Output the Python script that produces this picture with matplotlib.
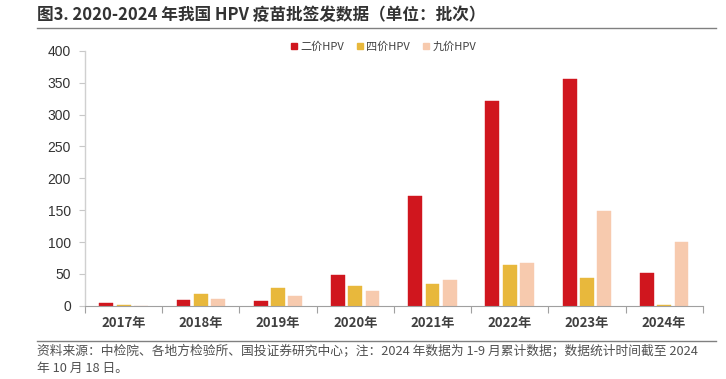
import numpy as np
import matplotlib.pyplot as plt
from matplotlib.lines import Line2D

plt.rcParams['font.family'] = ['Noto Sans CJK SC', 'DejaVu Sans']

years = ["2017年", "2018年", "2019年", "2020年", "2021年", "2022年", "2023年", "2024年"]
bivalent = [5, 9, 8, 49, 173, 322, 356, 51]
quadrivalent = [2, 19, 28, 31, 34, 64, 43, 2]
nonavalent = [0, 11, 15, 24, 41, 67, 149, 100]
series_names = ["二价HPV", "四价HPV", "九价HPV"]
colors = ["#D0161E", "#E8B83C", "#F7CAAE"]

fig = plt.figure(figsize=(7.26, 3.79), dpi=100)
ax = fig.add_axes([0.117, 0.193, 0.851, 0.673])

x = np.arange(len(years))
w = 0.18
step = 0.224
for i, (vals, c, name) in enumerate(zip([bivalent, quadrivalent, nonavalent], colors, series_names)):
    ax.bar(x + (i - 1) * step, vals, width=w, color=c, edgecolor=c,
           linewidth=0.3, label=name)

ax.set_xlim(-0.5, len(years) - 0.5)
ax.set_ylim(0, 400)
ax.set_yticks(range(0, 401, 50))
ax.set_xticks(x)
ax.set_xticklabels(years, fontsize=9.5, color="#404040", fontweight="bold")
ax.set_xticks(np.arange(-0.5, len(years), 1), minor=True)
ax.tick_params(axis="x", which="major", length=0, pad=7)
ax.tick_params(axis="x", which="minor", length=5, color="#A0A0A0", width=0.8)
ax.tick_params(axis="y", length=4, color="#C8C8C8", width=0.8, labelsize=10, labelcolor="#333333", pad=6)
for lab in ax.get_yticklabels():
    lab.set_family(["Liberation Sans", "DejaVu Sans"])

for s in ["top", "right"]:
    ax.spines[s].set_visible(False)
ax.spines["left"].set_color("#D0D0D0")
ax.spines["left"].set_linewidth(1.0)
ax.spines["bottom"].set_color("#A0A0A0")
ax.spines["bottom"].set_linewidth(0.8)

handles = [Line2D([], [], marker="s", linestyle="none", markersize=5,
                  markerfacecolor=c, markeredgecolor=c) for c in colors]
leg = ax.legend(handles, series_names, loc="upper center", bbox_to_anchor=(0.48, 1.075),
                ncol=3, frameon=False, fontsize=8, handletextpad=0.0, columnspacing=0.8,
                handlelength=1.2, labelcolor="#404040")

# title and rules
fig.text(0.051, 0.96, "图3. 2020-2024 年我国 HPV 疫苗批签发数据（单位：批次）",
         fontsize=12, fontweight="bold", color="#333333", va="center", ha="left")
fig.add_artist(Line2D([0.051, 0.986], [0.926, 0.926], color="#808080", linewidth=1.0))
fig.add_artist(Line2D([0.051, 0.986], [0.100, 0.100], color="#808080", linewidth=1.0))

fig.text(0.051, 0.071,
         "资料来源：中检院、各地方检验所、国投证券研究中心；注：2024 年数据为 1-9 月累计数据；数据统计时间截至 2024",
         fontsize=9.2, color="#505050", va="center", ha="left")
fig.text(0.051, 0.028, "年 10 月 18 日。", fontsize=9.2, color="#505050", va="center", ha="left")

fig.savefig("out.png", dpi=100)
